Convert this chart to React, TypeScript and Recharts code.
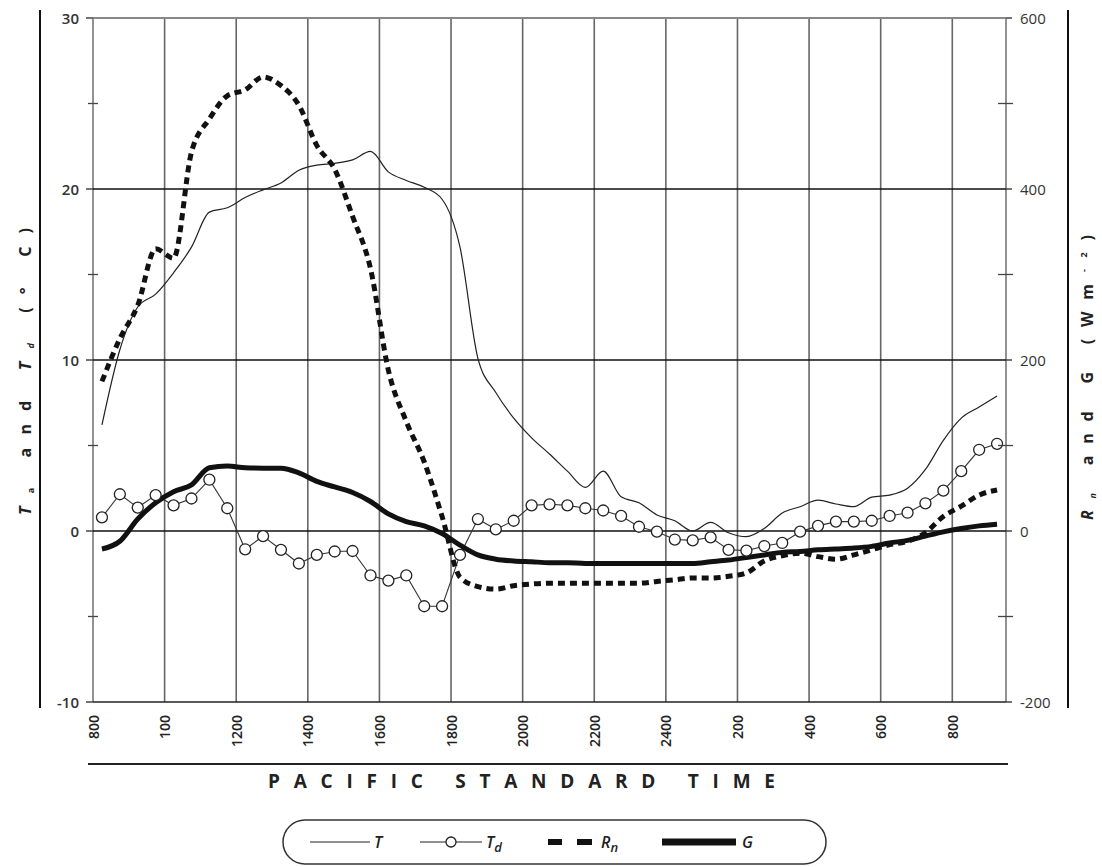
import { ComposedChart, Line, XAxis, YAxis, ReferenceLine } from "recharts";

// half-hourly readings, hours after 08:00 PST
const hours = [
  0.25, 0.75, 1.25, 1.75, 2.25, 2.75, 3.25, 3.75, 4.25, 4.75,
  5.25, 5.75, 6.25, 6.75, 7.25, 7.75, 8.25, 8.75, 9.25, 9.75,
  10.25, 10.75, 11.25, 11.75, 12.25, 12.75, 13.25, 13.75, 14.25, 14.75,
  15.25, 15.75, 16.25, 16.75, 17.25, 17.75, 18.25, 18.75, 19.25, 19.75,
  20.25, 20.75, 21.25, 21.75, 22.25, 22.75, 23.25, 23.75, 24.25, 24.75, 25.25,
];

// air temperature (°C)
const tempT = [
  6.2, 10.6, 13.1, 13.85, 15.1, 16.6, 18.65, 18.9, 19.5, 19.95,
  20.35, 21.1, 21.4, 21.5, 21.7, 22.2, 21.0, 20.5, 20.1, 19.4,
  16.6, 10.1, 8.1, 6.6, 5.45, 4.5, 3.5, 2.55, 3.5, 2.0,
  1.65, 0.94, 0.6, 0.0, 0.5, -0.1, -0.33, 0.15, 1.05, 1.42,
  1.8, 1.58, 1.42, 1.98, 2.1, 2.5, 3.6, 5.3, 6.6, 7.25, 7.9,
];

// dew point (°C)
const dewTd = [
  0.8, 2.15, 1.37, 2.1, 1.5, 1.9, 3.0, 1.33, -1.07, -0.3,
  -1.1, -1.9, -1.4, -1.2, -1.17, -2.6, -2.9, -2.6, -4.4, -4.4,
  -1.4, 0.7, 0.1, 0.6, 1.5, 1.56, 1.5, 1.33, 1.2, 0.88,
  0.25, -0.04, -0.5, -0.55, -0.37, -1.1, -1.15, -0.88, -0.7, -0.04,
  0.3, 0.55, 0.55, 0.6, 0.88, 1.07, 1.62, 2.36, 3.5, 4.75, 5.1,
];

// net radiation (W m-2)
const netRn = [
  175, 225, 264, 330, 319, 443, 482, 509, 516, 531,
  521, 498, 451, 423, 368, 307, 188, 128, 81, 17,
  -54, -65, -68, -64, -62, -61, -61, -61, -61, -61,
  -61, -59, -57, -55, -55, -53, -49, -35, -29, -26,
  -30, -33, -28, -22, -16, -12, -2, 17, 29, 42, 48,
];

// soil heat flux (W m-2)
const soilG = [
  -21, -12, 14, 33, 46, 54, 74, 76, 74, 73.5,
  73.5, 68, 58, 51.5, 45, 34.5, 20, 11, 6, -3,
  -16.5, -28, -33, -35, -36, -37, -37, -38, -38, -38,
  -38, -38, -38, -38, -36, -34, -31, -28, -25, -24,
  -22, -21, -20, -18, -14, -11, -6, -1, 3, 6, 8,
];

const xTicks = [0, 2, 4, 6, 8, 10, 12, 14, 16, 18, 20, 22, 24];
const xTickLabels = ["800", "100", "1200", "1400", "1600", "1800", "2000", "2200", "2400", "200", "400", "600", "800"];
const leftTicks = [-10, -5, 0, 5, 10, 15, 20, 25, 30];
const rightTicks = [-200, -100, 0, 100, 200, 300, 400, 500, 600];
const innerH = [0, 10, 20];
const innerV = [2, 4, 6, 8, 10, 12, 14, 16, 18, 20, 22, 24];

const data = hours.map((h, i) => ({ h, T: tempT[i], Td: dewTd[i], Rn: netRn[i], G: soilG[i] }));

const font = "'Open Sans', 'DejaVu Sans', sans-serif";

const XTick = (p: any) => (
  <text
    transform={`translate(${p.x},715) rotate(-90)`}
    textAnchor="end"
    dominantBaseline="central"
    fontSize={14}
    fontWeight={600}
    fontFamily={font}
    fill="#222"
  >
    {xTickLabels[xTicks.indexOf(p.payload.value)]}
  </text>
);

const LeftTick = (p: any) => {
  const v = p.payload.value;
  if (v % 10 !== 0) return <line x1={88} x2={98} y1={p.y} y2={p.y} stroke="#444" strokeWidth={1.3} />;
  return (
    <g>
      <line x1={86} x2={93} y1={p.y} y2={p.y} stroke="#444" strokeWidth={1.5} />
      <text x={79} y={p.y} textAnchor="end" dominantBaseline="central" fontSize={15} fontWeight={600} fontFamily={font} fill="#333">
        {v}
      </text>
    </g>
  );
};

const RightTick = (p: any) => {
  const v = p.payload.value;
  if (v % 200 !== 0) return <line x1={998} x2={1013} y1={p.y} y2={p.y} stroke="#444" strokeWidth={1.3} />;
  return (
    <g>
      <line x1={1006} x2={1012} y1={p.y} y2={p.y} stroke="#444" strokeWidth={1.5} />
      <text x={1020} y={p.y} textAnchor="start" dominantBaseline="central" fontSize={15} fontFamily={font} fill="#333">
        {v}
      </text>
    </g>
  );
};

const Overlay = () => (
  <svg width={1102} height={867} style={{ position: "absolute", left: 0, top: 0, pointerEvents: "none" }}>
    <line x1={40} x2={40} y1={10} y2={708} stroke="#111" strokeWidth={2} />
    <line x1={1068} x2={1068} y1={10} y2={708} stroke="#111" strokeWidth={2} />
    <line x1={88} x2={1008} y1={764} y2={764} stroke="#222" strokeWidth={2} />

    <text
      transform="translate(31,515) rotate(-90)"
      textAnchor="start"
      textLength={287}
      lengthAdjust="spacing"
      fontSize={16}
      fontWeight={700}
      fontFamily={font}
      fill="#222"
    >
      <tspan fontStyle="italic">T</tspan>
      <tspan fontSize={9} dy={3}>a</tspan>
      <tspan dy={-3}> and </tspan>
      <tspan fontStyle="italic">T</tspan>
      <tspan fontSize={9} dy={3} fontStyle="italic">d</tspan>
      <tspan dy={-3}> (° C)</tspan>
    </text>

    <text
      transform="translate(1093,520) rotate(-90)"
      textAnchor="start"
      textLength={285}
      lengthAdjust="spacing"
      fontSize={16}
      fontWeight={700}
      fontFamily={font}
      fill="#222"
    >
      <tspan fontStyle="italic">R</tspan>
      <tspan fontSize={9} dy={3} fontStyle="italic">n</tspan>
      <tspan dy={-3}> and G (Wm</tspan>
      <tspan fontSize={9} dy={-6}>-2</tspan>
      <tspan dy={6}>)</tspan>
    </text>

    <text x={268} y={788} textLength={507} lengthAdjust="spacing" fontSize={19} fontWeight={700} fontFamily={font} fill="#222">
      PACIFIC STANDARD TIME
    </text>

    <rect x={283} y={820} width={543} height={44} rx={22} ry={22} fill="#fff" stroke="#333" strokeWidth={1.5} />
    <g fontFamily={font} fontStyle="italic" fontWeight={600} fontSize={16} fill="#222">
      <line x1={310} x2={370} y1={842} y2={842} stroke="#222" strokeWidth={1.2} />
      <text x={374} y={848}>T</text>

      <line x1={420} x2={482} y1={842} y2={842} stroke="#222" strokeWidth={1.2} />
      <circle cx={451} cy={842} r={5} fill="#fff" stroke="#222" strokeWidth={1.3} />
      <text x={486} y={848}>
        T<tspan fontSize={13} dy={4}>d</tspan>
      </text>

      <rect x={548} y={839} width={14} height={6} fill="#111" />
      <rect x={577} y={839} width={15} height={6} fill="#111" />
      <text x={601} y={848}>
        R<tspan fontSize={13} dy={4}>n</tspan>
      </text>

      <line x1={662} x2={736} y1={842} y2={842} stroke="#111" strokeWidth={7} />
      <text x={742} y={848}>G</text>
    </g>
  </svg>
);

const App = () => (
  <div style={{ position: "absolute", left: 0, top: 0, width: 1102, height: 867, background: "#fff" }}>
    <ComposedChart width={1102} height={867} data={data} margin={{ top: 18, right: 34, bottom: 103, left: 40 }}>
      <XAxis
        dataKey="h"
        type="number"
        domain={[0, 25.5]}
        ticks={xTicks}
        interval={0}
        height={62}
        axisLine={false}
        tickLine={false}
        tick={(p: any) => <XTick {...p} />}
      />
      <YAxis
        yAxisId="l"
        orientation="left"
        domain={[-10, 30]}
        ticks={leftTicks}
        interval={0}
        width={53}
        axisLine={false}
        tickLine={false}
        tick={(p: any) => <LeftTick {...p} />}
      />
      <YAxis
        yAxisId="r"
        orientation="right"
        domain={[-200, 600]}
        ticks={rightTicks}
        interval={0}
        width={62}
        axisLine={false}
        tickLine={false}
        tick={(p: any) => <RightTick {...p} />}
      />

      {innerV.map((v) => (
        <ReferenceLine key={"v" + v} yAxisId="l" x={v} stroke="#666" strokeWidth={1.6} />
      ))}
      <ReferenceLine yAxisId="l" x={0} stroke="#777" strokeWidth={1.6} />
      <ReferenceLine yAxisId="l" x={25.5} stroke="#777" strokeWidth={1.6} />
      {innerH.map((v) => (
        <ReferenceLine key={"h" + v} yAxisId="l" y={v} stroke="#111" strokeWidth={1.4} />
      ))}
      <ReferenceLine yAxisId="l" y={30} stroke="#888" strokeWidth={2} />
      <ReferenceLine yAxisId="l" y={-10} stroke="#222" strokeWidth={1.6} />

      <Line yAxisId="l" dataKey="T" type="monotone" stroke="#222" strokeWidth={1.2} dot={false} isAnimationActive={false} />
      <Line
        yAxisId="l"
        dataKey="Td"
        type="linear"
        stroke="#333"
        strokeWidth={1.1}
        dot={{ r: 5.5, fill: "#fff", stroke: "#222", strokeWidth: 1.3 }}
        isAnimationActive={false}
      />
      <Line yAxisId="r" dataKey="Rn" type="monotone" stroke="#111" strokeWidth={5} strokeDasharray="7 5" dot={false} isAnimationActive={false} />
      <Line yAxisId="r" dataKey="G" type="monotone" stroke="#111" strokeWidth={5} dot={false} isAnimationActive={false} />
    </ComposedChart>
    <Overlay />
  </div>
);

export default App;
